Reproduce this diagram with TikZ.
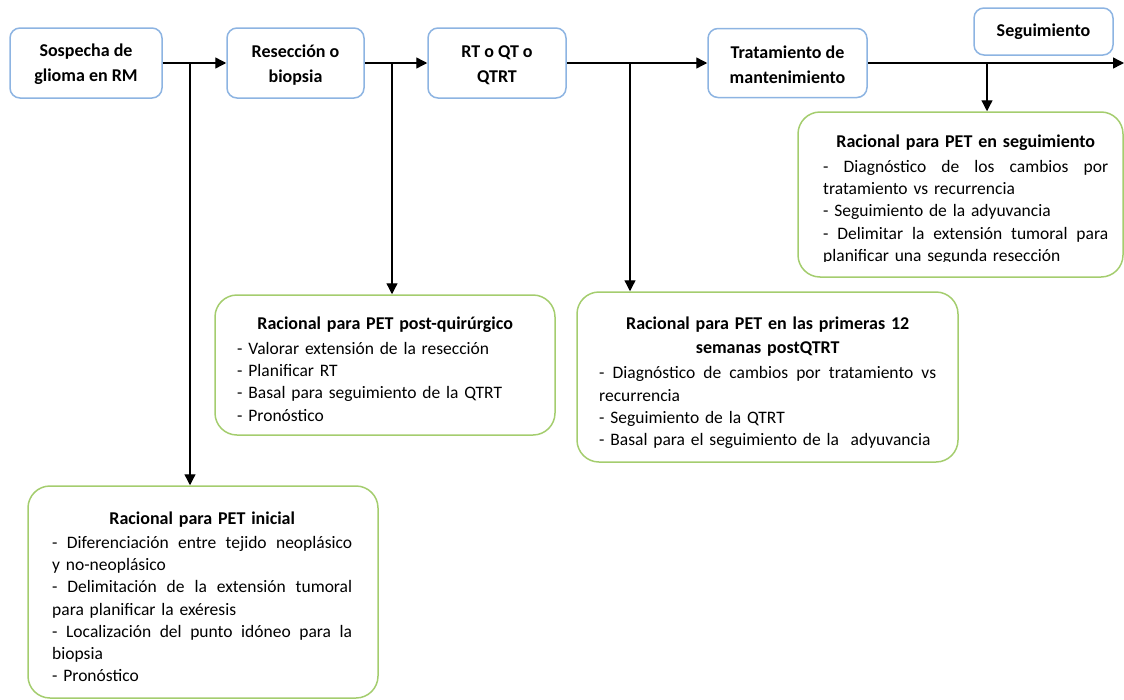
\documentclass[tikz,border=0pt]{standalone}
\usepackage{fontspec}
\setmainfont{Carlito}
\usetikzlibrary{arrows.meta}
\definecolor{stageblue}{HTML}{8DB4E2}
\definecolor{petgreen}{HTML}{A4CD6E}
% a line whose word spaces are spread over the full text width,
% and a centred bold heading line
\newcommand{\fullline}[1]{\leavevmode\hbox to \linewidth{\spaceskip=0.23em plus 1fil\relax #1}}
\newcommand{\headline}[1]{\leavevmode\hbox to \linewidth{\hfil\fontsize{18}{22.3}\selectfont\bfseries #1\hfil}}
\begin{document}
\begin{tikzpicture}[x=1pt,y=-1pt,
  stage/.style={draw=stageblue, line width=1.5pt, rounded corners=10pt,
    fill=white, inner sep=0pt, align=center,
    font=\fontsize{18}{25}\selectfont\bfseries},
  petbox/.style={draw=petgreen, line width=1.5pt, rounded corners=22pt,
    inner sep=0pt},
  pettext/.style={anchor=north west, inner sep=0pt, align=left,
    font=\fontsize{17.5}{22.3}\selectfont},
  flow/.style={line width=1.4pt, -{Triangle[length=11pt,width=11pt]}},
  branch/.style={line width=1.3pt, -{Triangle[length=11pt,width=11pt]}},
]
\useasboundingbox (0,0) rectangle (1124,699);

% stages of the pathway
\node[stage, minimum width=152pt, minimum height=70pt] (b1) at (86,63)
  {\rule{0pt}{16pt}Sospecha de\\glioma en RM};
\node[stage, minimum width=137pt, minimum height=70pt] (b2) at (295.5,63)
  {\rule{0pt}{16pt}Resección o\\biopsia};
\node[stage, minimum width=138pt, minimum height=70pt] (b3) at (497,63)
  {\rule{0pt}{16pt}RT o QT o\\QTRT};
\node[stage, minimum width=159pt, minimum height=69pt] (b4) at (787.5,63)
  {\rule{0pt}{16pt}Tratamiento de\\mantenimiento};
\node[stage, minimum width=139pt, minimum height=47pt] (b5) at (1043.5,31.5)
  {Seguimiento};

% PET rationale boxes
\node[petbox, minimum width=325pt, minimum height=165pt] (gA) at (960.5,194.5) {};
\node[petbox, minimum width=340pt, minimum height=140pt] (gB) at (385,365) {};
\node[petbox, minimum width=381pt, minimum height=170pt] (gC) at (767.5,377) {};
\node[petbox, minimum width=350pt, minimum height=212pt] (gD) at (203,592) {};

% the last line of this box runs into the box edge and is cut there
\begin{scope}
\clip (790,100) rectangle (1124,261);
\node[pettext, text width=285pt] (tA) at (823,135) {%
  \headline{Racional para PET en seguimiento}\\[2pt]
  \fullline{- Diagnóstico de los cambios por}\\
  tratamiento vs recurrencia\\
  - Seguimiento de la adyuvancia\\
  \fullline{- Delimitar la extensión tumoral para}\\
  planificar una segunda resección};
\end{scope}

\node[pettext, text width=296pt] (tB) at (237,317) {%
  \headline{Racional para PET post-quirúrgico}\\[2pt]
  - Valorar extensión de la resección\\
  - Planificar RT\\
  - Basal para seguimiento de la QTRT\\
  - Pronóstico};

\node[pettext, text width=337pt] (tC) at (599,316.5) {%
  \headline{Racional para PET en las primeras 12}\\[2pt]
  \headline{semanas postQTRT}\\[3pt]
  \fullline{- Diagnóstico de cambios por tratamiento vs}\\
  recurrencia\\
  - Seguimiento de la QTRT\\
  \mbox{- Basal para el seguimiento de la\ \ adyuvancia}};

\node[pettext, text width=300pt] (tD) at (52,512) {%
  \headline{Racional para PET inicial}\\[1pt]
  \fullline{- Diferenciación entre tejido neoplásico}\\
  y no-neoplásico\\
  \fullline{- Delimitación de la extensión tumoral}\\
  para planificar la exéresis\\
  \fullline{- Localización del punto idóneo para la}\\
  biopsia\\
  - Pronóstico};

% branch points on the main line
\coordinate (j1) at (190,63);
\coordinate (j2) at (392,63);
\coordinate (j3) at (630,63);
\coordinate (j4) at (987,63);
\coordinate (out) at (1124,63);

% main pathway
\draw[flow] (b1.east) -- (b2.west);
\draw[flow] (b2.east) -- (b3.west);
\draw[flow] (b3.east) -- (b4.west);
\draw[flow] (b4.east) -- (out);

% branches to the PET boxes
\draw[branch] (j1) -- (j1 |- gD.north);
\draw[branch] (j2) -- (j2 |- gB.north);
\draw[branch] (j3) -- (j3 |- gC.north);
\draw[branch] (j4) -- (j4 |- gA.north);
\end{tikzpicture}
\end{document}
